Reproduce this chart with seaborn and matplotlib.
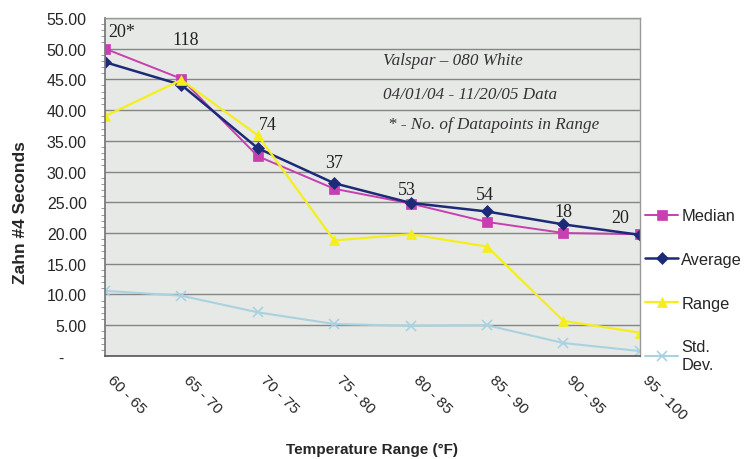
import numpy as np
import pandas as pd
import seaborn as sns
import matplotlib.pyplot as plt
from matplotlib.ticker import MultipleLocator, FuncFormatter

# Data
temp_ranges = ["60 - 65", "65 - 70", "70 - 75", "75 - 80", "80 - 85", "85 - 90", "90 - 95", "95 - 100"]
median = [50.0, 45.1, 32.5, 27.2, 24.8, 21.8, 20.0, 19.8]
average = [47.8, 44.1, 33.8, 28.1, 24.9, 23.5, 21.4, 19.7]
value_range = [39.0, 44.9, 35.9, 18.8, 19.8, 17.8, 5.7, 3.8]
std_dev = [10.6, 9.8, 7.1, 5.2, 4.9, 5.0, 2.1, 0.8]
n_points = ["20*", "118", "74", "37", "53", "54", "18", "20"]

notes = ["Valspar \u2013 080 White", "04/01/04 - 11/20/05 Data", "* - No. of Datapoints in Range"]

sns.set_theme(style="white")
plt.rcParams["font.family"] = ["Liberation Sans", "DejaVu Sans"]

fig = plt.figure(figsize=(7.44, 4.6), dpi=100)
ax = fig.add_axes([0.141, 0.224, 0.719, 0.735])
ax.set_facecolor("#e7e9e7")

x = np.arange(len(temp_ranges))
series = [
    ("Median", median, "#c73fb0", "s", 7, 1.4),
    ("Average", average, "#1c2a78", "D", 6.5, 1.8),
    ("Range", value_range, "#f4ef1c", "^", 7.5, 1.6),
    ("Std.\nDev.", std_dev, "#a9d2e0", "x", 7, 1.5),
]
for name, vals, col, mk, ms, lw in series:
    sns.lineplot(x=x, y=vals, ax=ax, color=col, marker=mk, markersize=ms,
                 markeredgecolor=col, markeredgewidth=1.2 if mk == "x" else 0.5,
                 linewidth=lw, label=name)

# datapoint count labels, offset (points) from the highest marker
offsets = [(12, 12.5), (3, 28.5), (7, 8), (0, 15), (-3, 10), (-1.5, 12), (0, 9.5), (-14, 12)]
tops = np.maximum(np.maximum(median, average), value_range)
for i, lab in enumerate(n_points):
    ax.annotate(lab, xy=(x[i], tops[i]), xytext=offsets[i], textcoords="offset points",
                ha="center", va="center", fontsize=13, family="Liberation Serif", color="#222222")

note_pos = [(3.64, 48.1), (3.64, 42.6), (3.70, 37.7)]
for note, (nx, ny) in zip(notes, note_pos):
    ax.text(nx, ny, note, fontsize=12.3, style="italic",
            family="Liberation Serif", color="#333333", va="center")

ax.set_xlim(0, 7)
ax.set_ylim(0, 55)
ax.yaxis.set_major_locator(MultipleLocator(5))
ax.yaxis.set_minor_locator(MultipleLocator(1))
ax.yaxis.set_major_formatter(FuncFormatter(lambda v, p: "-     " if v == 0 else f"{v:.2f}"))
ax.grid(axis="y", which="major", color="#858585", linewidth=1.0)
ax.set_axisbelow(True)

ax.set_xticks(x)
ax.set_xticklabels(temp_ranges, rotation=-45, ha="left", va="top", rotation_mode="default", fontsize=11)
ax.tick_params(axis="x", which="major", direction="out", length=5, width=0.8, color="#555555", pad=7)
ax.tick_params(axis="y", which="major", direction="out", length=5, width=0.8, color="#777777",
               labelsize=11.5, pad=8)
ax.tick_params(axis="y", which="minor", direction="out", length=3, width=0.6, color="#888888", left=True)

for side in ["top", "right"]:
    ax.spines[side].set_color("#9a9a9a")
    ax.spines[side].set_linewidth(1.0)
ax.spines["left"].set_color("#777777")
ax.spines["bottom"].set_color("#555555")
ax.spines["bottom"].set_linewidth(1.2)

ax.set_xlabel("Temperature Range (\u00b0F)", fontsize=11, fontweight="bold", labelpad=14)
ax.set_ylabel("Zahn #4 Seconds", fontsize=12.5, fontweight="bold")
ax.yaxis.set_label_coords(-0.144, 0.426)

ax.legend(loc="upper left", bbox_to_anchor=(0.998, 0.456), frameon=False, fontsize=11.8,
          labelspacing=1.75, handlelength=2.0, handletextpad=0.2, borderaxespad=0)

fig.savefig("out.png", dpi=100, facecolor="white")
